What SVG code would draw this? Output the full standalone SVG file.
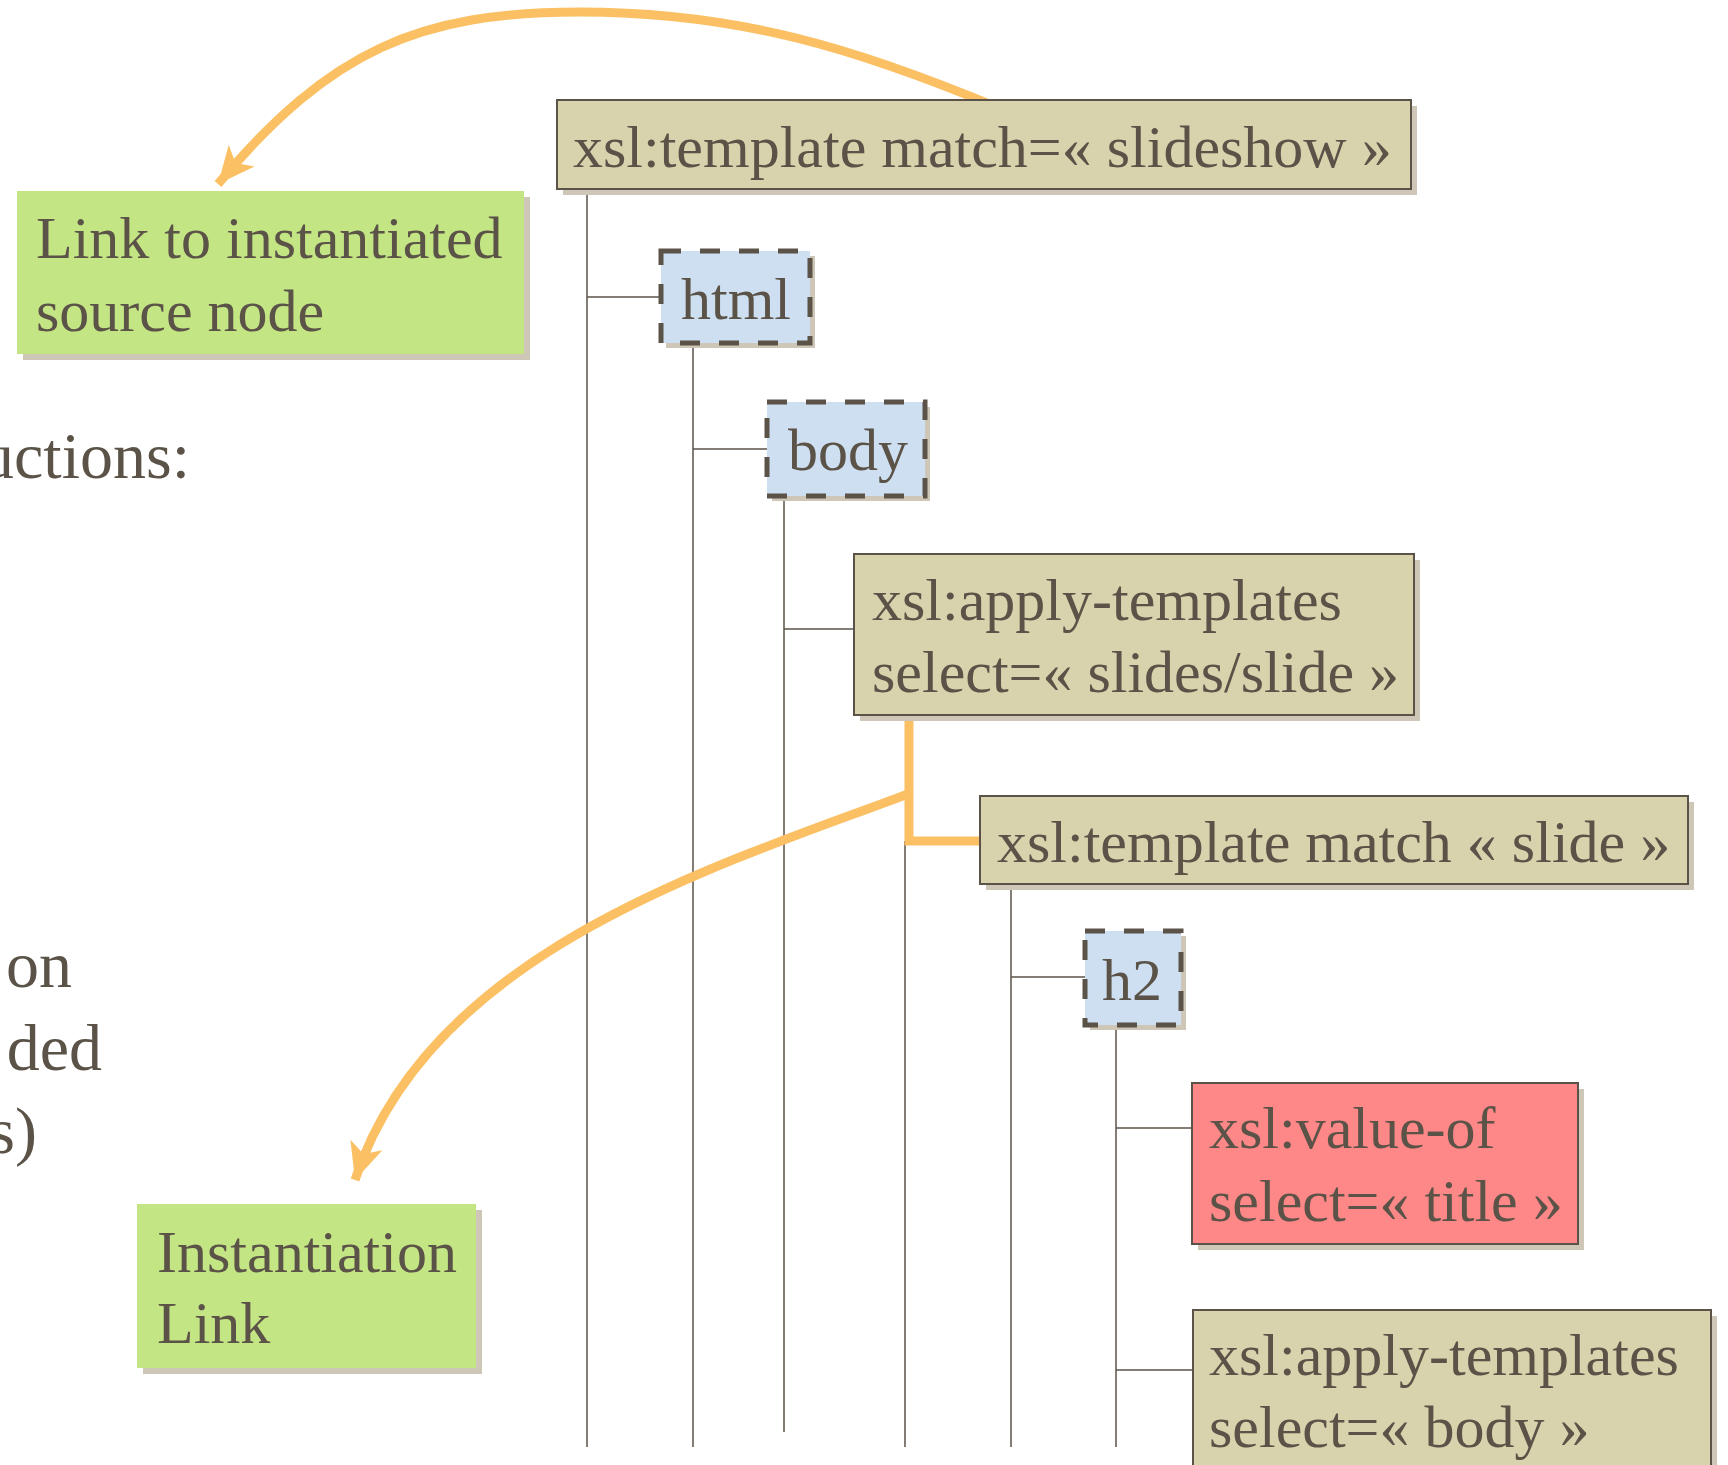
<svg xmlns="http://www.w3.org/2000/svg" width="1728" height="1465" viewBox="0 0 1728 1465">
<style>
.t{font-family:"Liberation Serif","Times New Roman",serif;font-size:60px;fill:#5b5348}
.f{font-size:66px}
.tan{fill:#d8d3ad;stroke:#5b5348;stroke-width:2}
.blue{fill:#cddff1;stroke:#5b5348;stroke-width:5;stroke-dasharray:20 19}
.sh{fill:#cec7b7}
.green{fill:#c3e584}
.red{fill:#fe8787;stroke:#5b5348;stroke-width:2}
.ln{stroke:#5b5348;stroke-width:1.5;fill:none}
.or{stroke:#fbc064;fill:none;stroke-width:9}
</style>
<defs>
<marker id="ah" markerUnits="userSpaceOnUse" markerWidth="40" markerHeight="40" viewBox="-36 -18 38 36" refX="0" refY="0" orient="auto">
<path d="M0,0 L-35,-16 L-26,0 L-35,16 Z" fill="#fbc064"/>
</marker>
</defs>
<rect width="1728" height="1465" fill="#ffffff"/>
<g id="text-fragments">
<text class="t f" x="190" y="478" text-anchor="end">uctions:</text>
<text class="t f" x="72" y="987" text-anchor="end">on</text>
<text class="t f" x="102" y="1070" text-anchor="end">ded</text>
<text class="t f" x="37" y="1153" text-anchor="end">s)</text>
</g>
<g id="connectors">
<path class="ln" d="M587,189 V1447 M693,343 V1447 M784,496 V1432 M905,841 V1447 M1011,884 V1447 M1116,1025 V1447"/>
<path class="ln" d="M587,297 H661 M693,449 H767 M784,629 H854 M1011,977 H1085 M1116,1128 H1192 M1116,1370 H1193"/>
<path class="or" stroke-width="10" d="M909,716 V841 H982"/>
<path class="or" d="M908,794 C720,865 430,950 355,1180" marker-end="url(#ah)"/>
<path class="or" d="M999,108 C860,50 740,12 580,12 C420,12 330,50 218,184" marker-end="url(#ah)"/>
</g>
<g id="node-template-slideshow">
<rect class="sh" x="563" y="106" width="854" height="89"/>
<rect class="tan" x="557" y="100" width="854" height="89"/>
<text class="t" x="573" y="167">xsl:template match=« slideshow »</text>
</g>
<g id="node-link-source">
<rect class="sh" x="23" y="197" width="507" height="163"/>
<rect class="green" x="17" y="191" width="507" height="163"/>
<text class="t" x="36" y="258">Link to instantiated</text>
<text class="t" x="36" y="331">source node</text>
</g>
<g id="node-html">
<rect class="sh" x="666" y="256" width="149" height="92"/>
<rect class="blue" x="661" y="251" width="149" height="92"/>
<text class="t" x="681" y="319">html</text>
</g>
<g id="node-body">
<rect class="sh" x="772" y="407" width="158" height="94"/>
<rect class="blue" x="767" y="402" width="158" height="94"/>
<text class="t" x="788" y="470">body</text>
</g>
<g id="node-apply-slides">
<rect class="sh" x="860" y="560" width="560" height="161"/>
<rect class="tan" x="854" y="554" width="560" height="161"/>
<text class="t" x="872" y="620">xsl:apply-templates</text>
<text class="t" x="872" y="692">select=« slides/slide »</text>
</g>
<g id="node-template-slide">
<rect class="sh" x="986" y="802" width="708" height="88"/>
<rect class="tan" x="980" y="796" width="708" height="88"/>
<text class="t" x="997" y="862">xsl:template match « slide »</text>
</g>
<g id="node-h2">
<rect class="sh" x="1090" y="936" width="96" height="94"/>
<rect class="blue" x="1085" y="931" width="96" height="94"/>
<text class="t" x="1102" y="1000">h2</text>
</g>
<g id="node-value-of">
<rect class="sh" x="1198" y="1089" width="386" height="161"/>
<rect class="red" x="1192" y="1083" width="386" height="161"/>
<text class="t" x="1209" y="1148">xsl:value-of</text>
<text class="t" x="1209" y="1221">select=« title »</text>
</g>
<g id="node-apply-body">
<rect class="sh" x="1199" y="1316" width="518" height="170"/>
<rect class="tan" x="1193" y="1310" width="518" height="170"/>
<text class="t" x="1209" y="1375">xsl:apply-templates</text>
<text class="t" x="1209" y="1447">select=« body »</text>
</g>
<g id="node-instantiation-link">
<rect class="sh" x="143" y="1210" width="339" height="164"/>
<rect class="green" x="137" y="1204" width="339" height="164"/>
<text class="t" x="157" y="1272">Instantiation</text>
<text class="t" x="157" y="1343">Link</text>
</g>
</svg>
